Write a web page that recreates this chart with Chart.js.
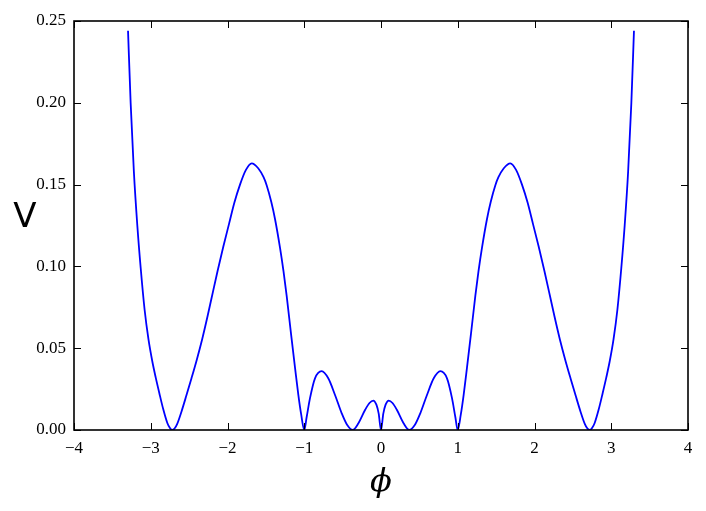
<!DOCTYPE html>
<html>
<head>
<meta charset="utf-8">
<script src="https://cdn.jsdelivr.net/npm/chart.js@4"></script>
<style>
html,body{margin:0;padding:0;background:#ffffff;}
canvas{display:block;}
</style>
</head>
<body>
<canvas id="c" width="706" height="511"></canvas>
<script>
// ---- data ----
const phi = [
  -3.296,-3.262,-3.220,-3.175,-3.131,-3.080,-3.030,-2.980,-2.935,-2.888,-2.836,-2.784,-2.750,-2.720,
  -2.690,-2.655,-2.600,-2.535,-2.470,-2.400,-2.330,-2.260,-2.206,-2.130,-2.055,-1.980,-1.910,-1.837,-1.760,
  -1.685,
  -1.600,-1.530,-1.489,-1.430,-1.381,-1.316,-1.270,-1.229,-1.173,-1.120,-1.077,-1.040,-1.000,
  -0.968,-0.925,-0.860,-0.773,-0.687,-0.599,-0.512,-0.440,-0.368,-0.296,-0.208,-0.150,
  -0.100,-0.060,-0.030,0.000,
  0.030,0.060,0.100,
  0.150,0.208,0.296,0.368,0.440,0.512,0.599,0.687,0.773,0.860,0.925,0.968,
  1.000,1.040,1.077,1.120,1.173,1.229,1.270,1.316,1.381,1.430,1.489,1.530,1.600,
  1.685,
  1.760,1.837,1.910,1.980,2.055,2.130,2.206,2.260,2.330,2.400,2.470,2.535,2.600,2.655,2.690,
  2.720,2.750,2.784,2.836,2.888,2.935,2.980,3.030,3.080,3.131,3.175,3.220,3.262,3.296
];
const V = [
  0.244,0.200,0.158,0.125,0.099,0.0735,0.0555,0.042,0.0320,0.0225,0.0125,0.0043,0.0012,0.0,
  0.0009,0.0038,0.0112,0.0212,0.0315,0.0430,0.0555,0.0695,0.0810,0.0970,0.1120,0.1260,0.1390,0.1500,0.1590,
  0.1630,
  0.1600,0.1545,0.1495,0.1395,0.1290,0.1115,0.0970,0.0820,0.0590,0.0380,0.0215,0.0095,0.0,
  0.0081,0.0195,0.0316,0.0360,0.0316,0.0214,0.0102,0.0030,0.0,0.0040,0.0122,0.0165,
  0.0180,0.0155,0.0100,0.0,
  0.0100,0.0155,0.0180,
  0.0165,0.0122,0.0040,0.0,0.0030,0.0102,0.0214,0.0316,0.0360,0.0316,0.0195,0.0081,
  0.0,0.0095,0.0215,0.0380,0.0590,0.0820,0.0970,0.1115,0.1290,0.1395,0.1495,0.1545,0.1600,
  0.1630,
  0.1590,0.1500,0.1390,0.1260,0.1120,0.0970,0.0810,0.0695,0.0555,0.0430,0.0315,0.0212,0.0112,0.0038,0.0009,
  0.0,0.0012,0.0043,0.0125,0.0225,0.0320,0.042,0.0555,0.0735,0.099,0.125,0.158,0.200,0.244
];
const xTicks = [-4,-3,-2,-1,0,1,2,3,4];
const xTickLabels = ["\u22124","\u22123","\u22122","\u22121","0","1","2","3","4"];
const yTicks = [0,0.05,0.10,0.15,0.20,0.25];
const yTickLabels = ["0.00","0.05","0.10","0.15","0.20","0.25"];
const xTitle = "\u03D5";
const yTitle = "V";

const points = phi.map((x,i)=>({x:x, y:V[i]}));

const frameAndTicks = {
  id:'frameAndTicks',
  afterDraw(chart){
    const ctx = chart.ctx, a = chart.chartArea;
    const xs = chart.scales.x, ys = chart.scales.y;
    const L = 7;
    ctx.save();
    ctx.strokeStyle = '#000';
    ctx.lineWidth = 1;
    ctx.beginPath();
    xTicks.forEach(v=>{
      const px = Math.round(xs.getPixelForValue(v))+0.5;
      ctx.moveTo(px,a.bottom); ctx.lineTo(px,a.bottom-L);
      ctx.moveTo(px,a.top); ctx.lineTo(px,a.top+L);
    });
    yTicks.forEach(v=>{
      const py = Math.round(ys.getPixelForValue(v))+0.5;
      ctx.moveTo(a.left,py); ctx.lineTo(a.left+L,py);
      ctx.moveTo(a.right,py); ctx.lineTo(a.right-L,py);
    });
    ctx.stroke();
    ctx.lineWidth = 1.6;
    ctx.strokeRect(a.left, a.top, a.right-a.left, a.bottom-a.top);
    // axis titles
    ctx.fillStyle = '#000';
    ctx.textAlign = 'center';
    ctx.textBaseline = 'middle';
    ctx.font = 'italic 32px "DejaVu Serif"';
    ctx.fillText(xTitle, (a.left+a.right)/2, 483);
    ctx.font = '34px "DejaVu Sans"';
    ctx.fillText(yTitle, 25, 218);
    ctx.restore();
  }
};

new Chart(document.getElementById('c'), {
  type:'line',
  data:{datasets:[{
    data:points,
    borderColor:'#0000ff',
    borderWidth:1.8,
    pointRadius:0,
    fill:false,
    cubicInterpolationMode:'monotone'
  }]},
  options:{
    responsive:false,
    animation:false,
    devicePixelRatio:1,
    layout:{padding:{left:0,top:21,right:18,bottom:0}},
    plugins:{legend:{display:false},tooltip:{enabled:false}},
    scales:{
      x:{
        type:'linear', min:-4, max:4,
        grid:{display:false, drawTicks:false},
        border:{display:false},
        afterBuildTicks(s){ s.ticks = xTicks.map(v=>({value:v})); },
        afterFit(s){ s.height = 81; },
        ticks:{
          padding:8, color:'#000', maxRotation:0, autoSkip:false,
          font:{family:'"Liberation Serif"', size:17},
          callback:(v,i)=>xTickLabels[i]
        }
      },
      y:{
        type:'linear', min:0, max:0.25,
        grid:{display:false, drawTicks:false},
        border:{display:false},
        afterBuildTicks(s){ s.ticks = yTicks.map(v=>({value:v})); },
        afterFit(s){ s.width = 74; },
        ticks:{
          padding:8, color:'#000', autoSkip:false,
          font:{family:'"Liberation Serif"', size:17},
          callback:(v,i)=>yTickLabels[i]
        }
      }
    }
  },
  plugins:[frameAndTicks]
});
</script>
</body>
</html>
